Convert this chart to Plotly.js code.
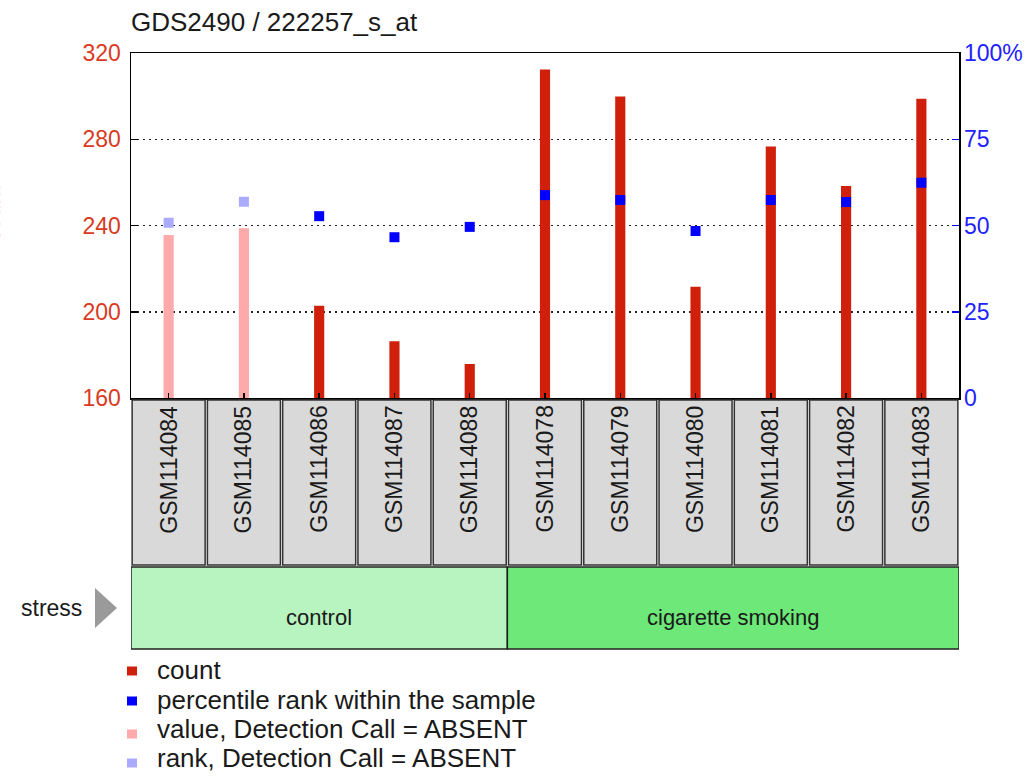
<!DOCTYPE html>
<html>
<head>
<meta charset="utf-8">
<script src="https://cdn.plot.ly/plotly-3.0.1.min.js"></script>
<style>
  html, body { margin: 0; padding: 0; background: #ffffff; }
  #chart { width: 1025px; height: 778px; }
</style>
</head>
<body>
<div id="chart"></div>
<script>
// ---- data ----
const chartTitle = 'GDS2490 / 222257_s_at';
const samples = ['GSM114084', 'GSM114085', 'GSM114086', 'GSM114087', 'GSM114088',
                 'GSM114078', 'GSM114079', 'GSM114080', 'GSM114081', 'GSM114082', 'GSM114083'];
const counts = [235.6, 238.7, 202.8, 186.3, 175.8, 312.4, 299.8, 211.6, 276.6, 258.3, 298.8];
const ranks = [50.8, 56.9, 52.7, 46.6, 49.6, 58.8, 57.4, 48.4, 57.4, 56.8, 62.4];
const detection = ['A', 'A', 'P', 'P', 'P', 'P', 'P', 'P', 'P', 'P', 'P'];
const groupLabel = 'stress';
const groups = ['control', 'cigarette smoking'];
const groupSizes = [5, 6];
const seriesNames = ['count', 'percentile rank within the sample',
                     'value, Detection Call = ABSENT', 'rank, Detection Call = ABSENT'];
const countTicks = [160, 200, 240, 280, 320];
const rankTicks = [0, 25, 50, 75, 100];
const rankTickText = ['0', '25', '50', '75', '100%'];
const leftAxisTitle = 'count';

// ---- styling ----
const FONT = 'Liberation Sans, Arial, Helvetica, sans-serif';
const colRed = '#d0200c';
const colPink = '#ffaaaa';
const colBlue = '#0000ff';
const colLightBlue = '#aaaaff';
const groupColors = ['#b7f4bf', '#6de879'];
const seriesColors = [colRed, colBlue, colPink, colLightBlue];

// plot area in pixels
const W = 1025, H = 778;
const L = 131, R = 959, T = 53, B = 398;
const pw = R - L, ph = B - T;
const px2x = p => (p - L) / pw;
const px2y = p => (B - p) / ph;

function pick(arr, flag) { return arr.filter((_, i) => (detection[i] === 'A') === flag); }

const traces = [
  { type: 'bar', x: pick(samples, false), y: pick(counts, false), width: 0.135,
    marker: { color: colRed, line: { width: 0 } }, name: seriesNames[0], hoverinfo: 'x+y' },
  { type: 'bar', x: pick(samples, true), y: pick(counts, true), width: 0.135,
    marker: { color: colPink, line: { width: 0 } }, name: seriesNames[2], hoverinfo: 'x+y' },
  { type: 'scatter', mode: 'markers', x: pick(samples, false), y: pick(ranks, false), yaxis: 'y2',
    marker: { symbol: 'square', size: 10, color: colBlue, line: { width: 0 } }, name: seriesNames[1] },
  { type: 'scatter', mode: 'markers', x: pick(samples, true), y: pick(ranks, true), yaxis: 'y2',
    marker: { symbol: 'square', size: 10, color: colLightBlue, line: { width: 0 } }, name: seriesNames[3] }
];

const shapes = [];
const annotations = [];

// sample label boxes
samples.forEach((s, i) => {
  shapes.push({ type: 'rect', xref: 'x', yref: 'paper',
    x0: i - 0.485, x1: i + 0.485, y0: px2y(565), y1: px2y(400),
    fillcolor: '#d9d9d9', line: { color: '#333333', width: 1.5 } });
  annotations.push({ xref: 'x', yref: 'paper', x: s, y: px2y(404),
    xanchor: 'center', yanchor: 'top', textangle: -90, showarrow: false, text: s,
    font: { family: FONT, size: 23, color: '#1a1a1a' } });
});

// group bands
let start = 0;
groups.forEach((g, k) => {
  const x0 = start - 0.5, x1 = start + groupSizes[k] - 0.5;
  shapes.push({ type: 'rect', xref: 'x', yref: 'paper', x0: x0, x1: x1,
    y0: px2y(649), y1: px2y(567), fillcolor: groupColors[k],
    line: { color: '#222222', width: 1.5 } });
  annotations.push({ xref: 'x', yref: 'paper', x: (x0 + x1) / 2, y: px2y(617),
    xanchor: 'center', yanchor: 'middle', showarrow: false, text: g,
    font: { family: FONT, size: 22, color: '#1a1a1a' } });
  start += groupSizes[k];
});

// "stress" label with arrow
annotations.push({ xref: 'paper', yref: 'paper', x: px2x(84), y: px2y(608),
  xanchor: 'right', yanchor: 'middle', showarrow: false, text: groupLabel,
  font: { family: FONT, size: 23, color: '#1a1a1a' } });
shapes.push({ type: 'path', xref: 'paper', yref: 'paper',
  path: 'M ' + px2x(95) + ',' + px2y(588) + ' L ' + px2x(117) + ',' + px2y(608) +
        ' L ' + px2x(95) + ',' + px2y(628) + ' Z',
  fillcolor: '#9a9a9a', line: { width: 0 } });

// legend
const legSquareY = [671, 701, 734, 763];
const legTextY = [670, 700, 729, 758];
seriesNames.forEach((n, k) => {
  shapes.push({ type: 'rect', xref: 'paper', yref: 'paper',
    x0: px2x(127), x1: px2x(137), y0: px2y(legSquareY[k] + 4.5), y1: px2y(legSquareY[k] - 4.5),
    fillcolor: seriesColors[k], line: { width: 0 } });
  annotations.push({ xref: 'paper', yref: 'paper', x: px2x(155), y: px2y(legTextY[k]),
    xanchor: 'left', yanchor: 'middle', showarrow: false, text: n,
    font: { family: FONT, size: 26, color: '#1a1a1a' } });
});

// left axis title, almost entirely off the canvas as in the reference
annotations.push({ xref: 'paper', yref: 'paper', x: px2x(6.5), y: px2y(213),
  xanchor: 'right', yanchor: 'middle', textangle: -90, showarrow: false, text: leftAxisTitle,
  font: { family: FONT, size: 23, color: '#ff0000' } });

const layout = {
  width: W, height: H,
  margin: { l: L, r: W - R, t: T, b: H - B, pad: 0 },
  paper_bgcolor: '#ffffff', plot_bgcolor: '#ffffff',
  showlegend: false,
  barmode: 'overlay',
  font: { family: FONT },
  title: { text: chartTitle, xref: 'paper', x: 0, xanchor: 'left',
    yref: 'container', y: 1 - 22 / H, yanchor: 'middle',
    font: { family: FONT, size: 26, color: '#1a1a1a' } },
  xaxis: { type: 'category', categoryorder: 'array', categoryarray: samples,
    range: [-0.5, samples.length - 0.5], showticklabels: false,
    ticks: 'inside', ticklen: 5, tickwidth: 1.5, tickcolor: '#000',
    showline: true, mirror: true, linecolor: '#000', linewidth: 1.5,
    showgrid: false, zeroline: false, fixedrange: true },
  yaxis: { range: [countTicks[0], countTicks[countTicks.length - 1]], tickvals: countTicks,
    ticks: 'inside', ticklen: 7, tickwidth: 1.5, tickcolor: '#000',
    tickfont: { family: FONT, size: 23, color: '#d93a22' }, ticklabelstandoff: 4,
    showgrid: true, gridcolor: '#222', gridwidth: 1.5, griddash: '2px,4px',
    showline: true, mirror: true, linecolor: '#000', linewidth: 1.5,
    zeroline: false, fixedrange: true },
  yaxis2: { overlaying: 'y', side: 'right', range: [0, 100], tickvals: rankTicks, ticktext: rankTickText,
    ticks: 'inside', ticklen: 7, tickwidth: 1.5, tickcolor: colBlue,
    tickfont: { family: FONT, size: 23, color: '#2222ff' }, ticklabelstandoff: 4,
    showgrid: false, zeroline: false, showline: false, fixedrange: true },
  shapes: shapes,
  annotations: annotations
};

Plotly.newPlot('chart', traces, layout, { displayModeBar: false, staticPlot: true });
</script>
</body>
</html>
